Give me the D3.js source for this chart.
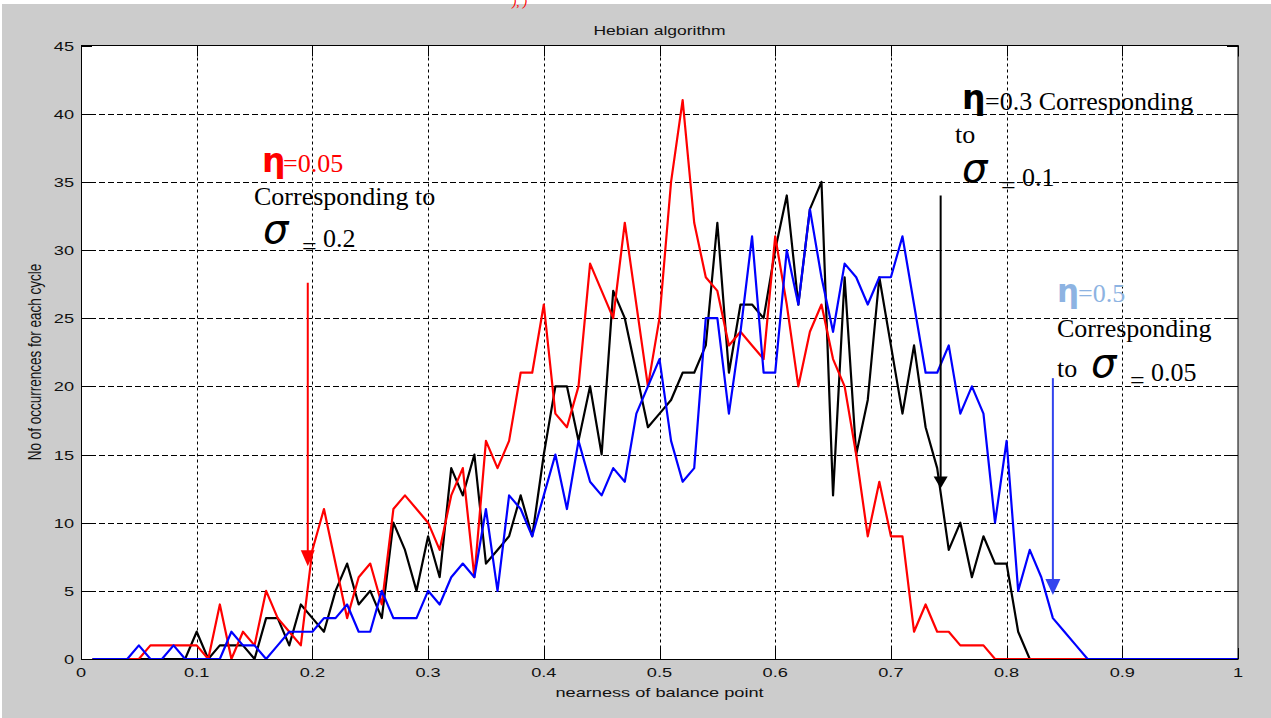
<!DOCTYPE html>
<html>
<head>
<meta charset="utf-8">
<script src="https://cdn.jsdelivr.net/npm/d3@7/dist/d3.min.js"></script>
<style>
    html, body { margin: 0; padding: 0; background: #fff; }
    svg { display: block; }
</style>
</head>
<body>
<svg id="chart" width="1271" height="718"></svg>
<script>
(function () {
    'use strict';

    // nearness of balance point (bins)
    var xValues = [
        0.01, 0.02, 0.03, 0.04, 0.05, 0.06, 0.07, 0.08, 0.09, 0.10,
        0.11, 0.12, 0.13, 0.14, 0.15, 0.16, 0.17, 0.18, 0.19, 0.20,
        0.21, 0.22, 0.23, 0.24, 0.25, 0.26, 0.27, 0.28, 0.29, 0.30,
        0.31, 0.32, 0.33, 0.34, 0.35, 0.36, 0.37, 0.38, 0.39, 0.40,
        0.41, 0.42, 0.43, 0.44, 0.45, 0.46, 0.47, 0.48, 0.49, 0.50,
        0.51, 0.52, 0.53, 0.54, 0.55, 0.56, 0.57, 0.58, 0.59, 0.60,
        0.61, 0.62, 0.63, 0.64, 0.65, 0.66, 0.67, 0.68, 0.69, 0.70,
        0.71, 0.72, 0.73, 0.74, 0.75, 0.76, 0.77, 0.78, 0.79, 0.80,
        0.81, 0.82, 0.83, 0.84, 0.85, 0.86, 0.87, 0.88, 0.89, 0.90,
        0.91, 0.92, 0.93, 0.94, 0.95, 0.96, 0.97, 0.98, 0.99, 1.00
    ];

    // eta = 0.05
    var redCounts = [
        0, 0, 0, 0, 0, 1, 1, 1, 1, 1,
        0, 4, 0, 2, 1, 5, 3, 2, 1, 8,
        11, 7, 3, 6, 7, 4, 11, 12, 11, 10,
        8, 12, 14, 6, 16, 14, 16, 21, 21, 26,
        18, 17, 20, 29, 27, 25, 32, 26, 20, 25,
        35, 41, 32, 28, 27, 23, 24, 23, 22, 31,
        26, 20, 24, 26, 22, 20, 15, 9, 13, 9,
        9, 2, 4, 2, 2, 1, 1, 1, 0, 0,
        0, 0, 0, 0, 0, 0, 0, 0, 0, 0,
        0, 0, 0, 0, 0, 0, 0, 0, 0, 0
    ];

    // eta = 0.3
    var blackCounts = [
        0, 0, 0, 0, 0, 0, 0, 0, 0, 2,
        0, 1, 1, 1, 0, 3, 3, 1, 4, 3,
        2, 5, 7, 4, 5, 3, 10, 8, 5, 9,
        6, 14, 12, 15, 7, 8, 9, 12, 9, 15,
        20, 20, 16, 20, 15, 27, 25, 21, 17, 18,
        19, 21, 21, 23, 32, 21, 26, 26, 25, 30,
        34, 26, 33, 35, 12, 28, 15, 19, 28, 23,
        18, 23, 17, 14, 8, 10, 6, 9, 7, 7,
        2, 0, 0, 0, 0, 0, 0, 0, 0, 0,
        0, 0, 0, 0, 0, 0, 0, 0, 0, 0
    ];

    // eta = 0.5
    var blueCounts = [
        0, 0, 0, 0, 1, 0, 0, 1, 0, 0,
        0, 0, 2, 1, 1, 0, 1, 2, 2, 2,
        3, 3, 4, 2, 2, 5, 3, 3, 3, 5,
        4, 6, 7, 6, 11, 5, 12, 11, 9, 12,
        15, 11, 16, 13, 12, 14, 13, 18, 20, 22,
        16, 13, 14, 25, 25, 18, 24, 31, 21, 21,
        30, 26, 33, 28, 24, 29, 28, 26, 28, 28,
        31, 26, 21, 21, 23, 18, 20, 18, 10, 16,
        5, 8, 6, 3, 2, 1, 0, 0, 0, 0,
        0, 0, 0, 0, 0, 0, 0, 0, 0, 0
    ];

    var xTickValues = [0, 0.1, 0.2, 0.3, 0.4, 0.5, 0.6, 0.7, 0.8, 0.9, 1];
    var xTickLabels = ['0', '0.1', '0.2', '0.3', '0.4', '0.5', '0.6', '0.7', '0.8', '0.9', '1'];
    var yTickValues = [0, 5, 10, 15, 20, 25, 30, 35, 40, 45];

    var WIDTH = 1271;
    var HEIGHT = 718;
    var PLOT = { left: 81, right: 1238, top: 45.5, bottom: 659 };
    var TICK_LEN = 11;
    var STRETCH = 1.4;
    var SANS = '"Liberation Sans", Arial, sans-serif';
    var SERIF = '"Liberation Serif", "Times New Roman", serif';
    var SYMBOL = '"DejaVu Sans", sans-serif';

    var svg = d3.select('#chart');
    var x = d3.scaleLinear().domain([0, 1]).range([PLOT.left, PLOT.right]);
    var y = d3.scaleLinear().domain([0, 45]).range([PLOT.bottom, PLOT.top]);

    function crisp(v) {
        return Math.round(v) + 0.5;
    }

    // figure background
    svg.append('rect')
        .attr('x', 2).attr('y', 4)
        .attr('width', WIDTH - 2).attr('height', HEIGHT - 4)
        .attr('fill', '#cccccc');

    svg.append('text')
        .attr('x', 512).attr('y', 6)
        .attr('font-family', SERIF).attr('font-style', 'italic')
        .attr('font-size', 13).attr('fill', '#ff0000')
        .text('),  )');

    svg.append('rect')
        .attr('x', PLOT.left).attr('y', PLOT.top)
        .attr('width', PLOT.right - PLOT.left).attr('height', PLOT.bottom - PLOT.top)
        .attr('fill', '#fff');

    // grid
    var grid = svg.append('g').attr('stroke', '#000').attr('stroke-width', 1).attr('fill', 'none');

    grid.selectAll('line.vgrid')
        .data(xTickValues.slice(1, -1))
        .enter().append('line')
        .attr('class', 'vgrid')
        .attr('x1', function (d) { return crisp(x(d)); })
        .attr('x2', function (d) { return crisp(x(d)); })
        .attr('y1', PLOT.top).attr('y2', PLOT.bottom)
        .attr('stroke-dasharray', '3,3');

    grid.selectAll('line.hgrid')
        .data(yTickValues.slice(1, -1))
        .enter().append('line')
        .attr('class', 'hgrid')
        .attr('y1', function (d) { return crisp(y(d)); })
        .attr('y2', function (d) { return crisp(y(d)); })
        .attr('x1', PLOT.left).attr('x2', PLOT.right)
        .attr('stroke-dasharray', '6,3');

    // ticks, inside on all four sides
    var ticks = svg.append('g').attr('stroke', '#000').attr('stroke-width', 1);
    xTickValues.forEach(function (d) {
        var px = crisp(x(d));
        ticks.append('line').attr('x1', px).attr('x2', px)
            .attr('y1', PLOT.bottom).attr('y2', PLOT.bottom - TICK_LEN);
        ticks.append('line').attr('x1', px).attr('x2', px)
            .attr('y1', PLOT.top).attr('y2', PLOT.top + TICK_LEN);
    });
    yTickValues.forEach(function (d) {
        var py = crisp(y(d));
        ticks.append('line').attr('y1', py).attr('y2', py)
            .attr('x1', PLOT.left).attr('x2', PLOT.left + TICK_LEN);
        ticks.append('line').attr('y1', py).attr('y2', py)
            .attr('x1', PLOT.right).attr('x2', PLOT.right - TICK_LEN);
    });

    // series
    var clip = svg.append('clipPath').attr('id', 'plot-clip');
    clip.append('rect')
        .attr('x', PLOT.left).attr('y', PLOT.top - 2)
        .attr('width', PLOT.right - PLOT.left).attr('height', PLOT.bottom - PLOT.top + 2);

    var line = d3.line()
        .x(function (d, i) { return x(xValues[i]); })
        .y(function (d) { return y(d); });

    var series = [
        { values: blackCounts, color: '#000000' },
        { values: redCounts, color: '#ff0000' },
        { values: blueCounts, color: '#0000ff' }
    ];

    svg.append('g').attr('clip-path', 'url(#plot-clip)')
        .selectAll('path')
        .data(series)
        .enter().append('path')
        .attr('d', function (s) { return line(s.values); })
        .attr('fill', 'none')
        .attr('stroke', function (s) { return s.color; })
        .attr('stroke-width', 2.2)
        .attr('stroke-linejoin', 'round');

    // axes box
    svg.append('rect')
        .attr('x', PLOT.left + 0.5).attr('y', PLOT.top)
        .attr('width', PLOT.right - PLOT.left - 0.5).attr('height', PLOT.bottom - PLOT.top + 0.5)
        .attr('fill', 'none').attr('stroke', '#000').attr('stroke-width', 1);

    // stretched MATLAB-style labels
    function stretched(px, py, str, size, anchor, rotate) {
        return svg.append('text')
            .attr('transform', 'translate(' + px + ',' + py + ') scale(' + STRETCH + ',1)' +
                (rotate ? ' rotate(' + rotate + ')' : ''))
            .attr('font-family', SANS)
            .attr('font-size', size)
            .attr('text-anchor', anchor)
            .attr('fill', '#111')
            .text(str);
    }

    xTickValues.forEach(function (d, i) {
        stretched(x(d), 677, xTickLabels[i], 13, 'middle');
    });
    yTickValues.forEach(function (d) {
        stretched(74, y(d) + 5, String(d), 13, 'end');
    });

    stretched((PLOT.left + PLOT.right) / 2, 35, 'Hebian algorithm', 12.5, 'middle');
    stretched((PLOT.left + PLOT.right) / 2, 697, 'nearness of balance point', 13, 'middle');
    svg.append('text')
        .attr('transform', 'translate(41,362) scale(1.35,1) rotate(-90)')
        .attr('font-family', SANS).attr('font-size', 13.5)
        .attr('text-anchor', 'middle').attr('fill', '#111')
        .text('No of occurrences for each cycle');

    // annotations
    function note(px, py, str, opts) {
        opts = opts || {};
        return svg.append('text')
            .attr('x', px).attr('y', py)
            .attr('font-family', opts.family || SERIF)
            .attr('font-size', opts.size || 26)
            .attr('font-style', opts.style || 'normal')
            .attr('font-weight', opts.weight || 'normal')
            .attr('fill', opts.color || '#000')
            .text(str);
    }

    function sigmaNote(px, py, value) {
        note(px, py, '\u03c3', { family: SYMBOL, size: 40, style: 'italic' });
        note(px + 39, py + 12, '=', { size: 26 });
        note(px + 60, py + 4, value);
    }

    note(262, 172, '\u03b7', { family: SYMBOL, size: 33, weight: 'bold', color: '#ff0000' });
    note(283, 172, '=0.05', { color: '#ff0000' });
    note(254, 205, 'Corresponding to');
    sigmaNote(263, 243, '0.2');

    note(962, 109, '\u03b7', { family: SYMBOL, size: 33, weight: 'bold' });
    note(985, 110, '=0.3 Corresponding');
    note(955, 143, 'to');
    sigmaNote(962, 182, '0.1');

    note(1057, 302, '\u03b7', { family: SYMBOL, size: 31, weight: 'bold', color: '#8db3e2' });
    note(1078, 302, '=0.5', { color: '#8db3e2' });
    note(1057, 337, 'Corresponding');
    note(1057, 377, 'to');
    sigmaNote(1091, 377, '0.05');

    // arrows, placed in data coordinates
    var arrows = [
        { x: 0.196, from: 27.6, to: 6.8, color: '#ff0000', w: 14, h: 16 },
        { x: 0.743, from: 34.0, to: 12.5, color: '#000000', w: 14, h: 12 },
        { x: 0.840, from: 20.6, to: 4.7, color: '#3344ee', w: 15, h: 16 }
    ];

    arrows.forEach(function (a) {
        var ax = x(a.x);
        var tip = y(a.to);
        svg.append('line')
            .attr('x1', ax).attr('x2', ax)
            .attr('y1', y(a.from)).attr('y2', tip - a.h + 1)
            .attr('stroke', a.color).attr('stroke-width', 2);
        svg.append('path')
            .attr('d', 'M' + ax + ',' + tip + 'L' + (ax - a.w / 2) + ',' + (tip - a.h) +
                'L' + (ax + a.w / 2) + ',' + (tip - a.h) + 'Z')
            .attr('fill', a.color);
    });
})();
</script>
</body>
</html>
